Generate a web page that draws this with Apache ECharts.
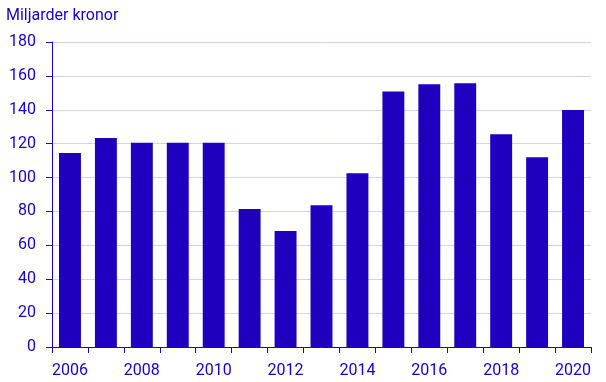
<!DOCTYPE html>
<html>
<head>
<meta charset="utf-8">
<script src="https://cdn.jsdelivr.net/npm/echarts@6/dist/echarts.min.js"></script>
<style>html,body{margin:0;padding:0;background:#fff}#c{width:606px;height:382px}</style>
</head>
<body>
<div id="c"></div>
<script>
const categories = ['2006','2007','2008','2009','2010','2011','2012','2013','2014','2015','2016','2017','2018','2019','2020'];
const values = [114.5, 123.4, 120.6, 120.6, 120.6, 81.4, 68.4, 83.7, 102.6, 150.8, 155.0, 155.6, 125.6, 112.0, 139.8];
const yTitle = 'Miljarder kronor';
const blue = '#1e00be';
const textBlue = '#1a00c8';
const chart = echarts.init(document.getElementById('c'));
chart.setOption({
  animation: false,
  textStyle: { fontFamily: 'Roboto' },
  graphic: [{ type: 'text', left: 6, top: 8, style: { text: yTitle, fill: textBlue, font: '16px Roboto' } }],
  grid: { left: 52, right: 15, top: 42, bottom: 35, containLabel: false },
  xAxis: {
    type: 'category', data: categories,
    axisLine: { lineStyle: { color: blue, width: 1 } },
    axisTick: { show: true, interval: 0, alignWithLabel: false, length: 6, lineStyle: { color: blue } },
    axisLabel: { interval: 1, color: textBlue, fontSize: 16, margin: 16, fontFamily: 'Roboto' }
  },
  yAxis: {
    type: 'value', min: 0, max: 180, interval: 20,
    axisLine: { show: true, lineStyle: { color: blue, width: 1 } },
    axisTick: { show: true, length: 6, lineStyle: { color: blue } },
    axisLabel: { color: textBlue, fontSize: 16, margin: 16, fontFamily: 'Roboto' },
    splitLine: { lineStyle: { color: '#d4d0f0', width: 1 } }
  },
  series: [{
    type: 'bar', data: values, barCategoryGap: '39%',
    itemStyle: { color: blue }
  }]
});
</script>
</body>
</html>
